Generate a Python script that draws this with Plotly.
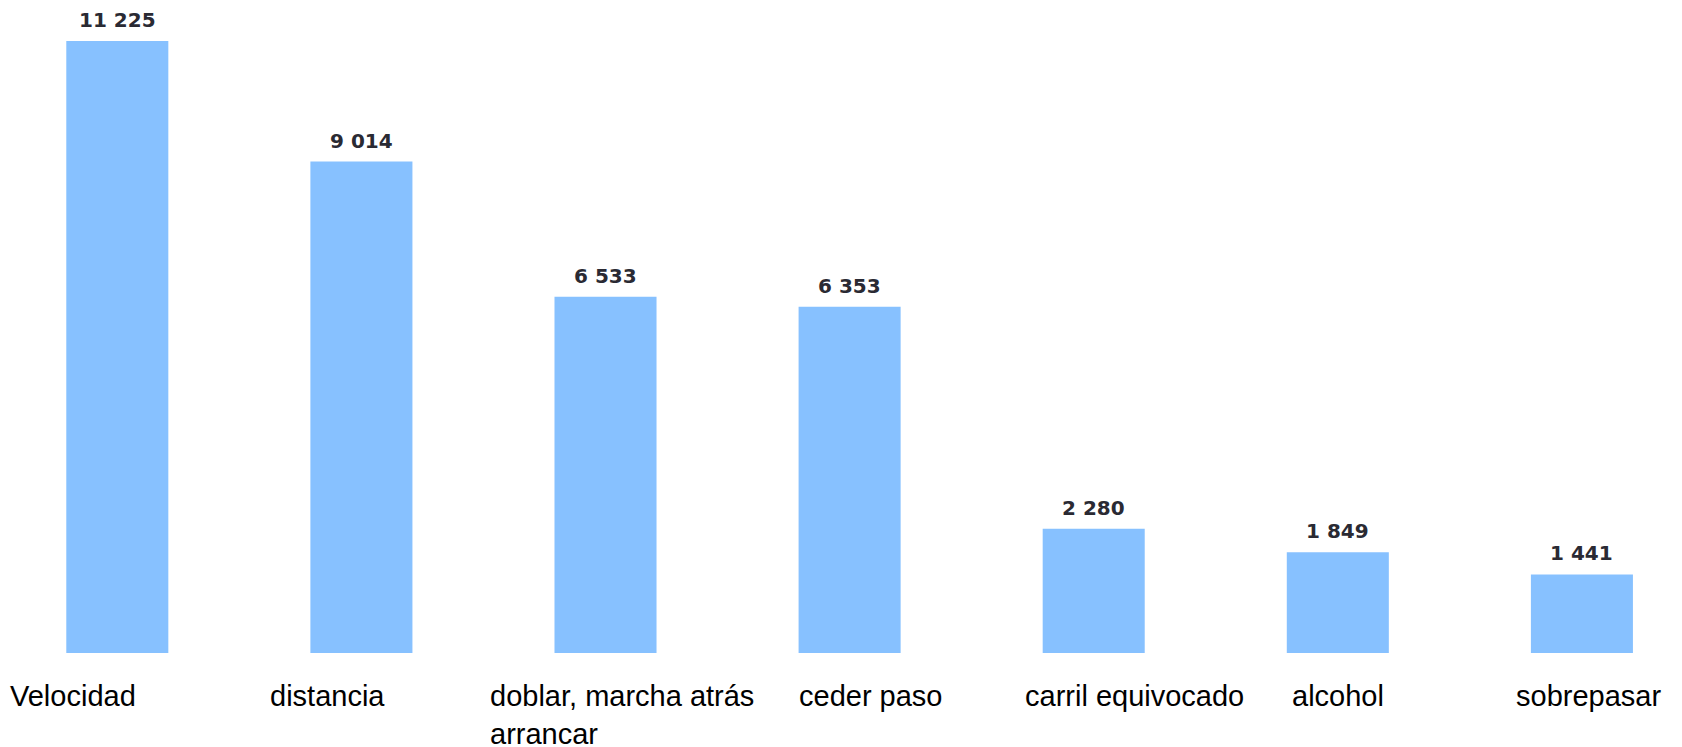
import plotly.graph_objects as go

categories = ["Velocidad", "distancia", "doblar, marcha atrás<br>arrancar", "ceder paso",
              "carril equivocado", "alcohol", "sobrepasar"]
values = [11225, 9014, 6533, 6353, 2280, 1849, 1441]
value_labels = ["11 225", "9 014", "6 533", "6 353", "2 280", "1 849", "1 441"]
label_xshift = [-109, -93, -118, -53, -71, -48, -68]

x_idx = list(range(len(categories)))

fig = go.Figure()
fig.add_trace(go.Bar(
    x=x_idx, y=values, width=0.418,
    marker=dict(color="#87C1FF", line=dict(width=0)),
    hoverinfo="skip",
))

for xi, v, vl in zip(x_idx, values, value_labels):
    fig.add_annotation(
        x=xi, y=v, xref="x", yref="y", text=vl, showarrow=False,
        xanchor="center", yanchor="middle", yshift=21,
        font=dict(family="DejaVu Sans", size=20, color="#2a2a33", weight="bold"),
    )

for xi, lab, dx in zip(x_idx, categories, label_xshift):
    fig.add_annotation(
        x=xi, y=0, xref="x", yref="paper", text=lab, showarrow=False,
        xanchor="left", yanchor="top", align="left", xshift=dx, yshift=-25,
        font=dict(family="Liberation Sans", size=29, color="#000000"),
    )

fig.update_layout(
    width=1682, height=747,
    margin=dict(l=0, r=0, t=10, b=102),
    paper_bgcolor="white", plot_bgcolor="white",
    showlegend=False,
    xaxis=dict(range=[-0.4478, 6.4428], showticklabels=False, showgrid=False,
               zeroline=False, showline=False, ticks=""),
    yaxis=dict(range=[0, 11647], showticklabels=False, showgrid=False,
               zeroline=False, showline=False, ticks=""),
)

fig.write_html("out.html")
